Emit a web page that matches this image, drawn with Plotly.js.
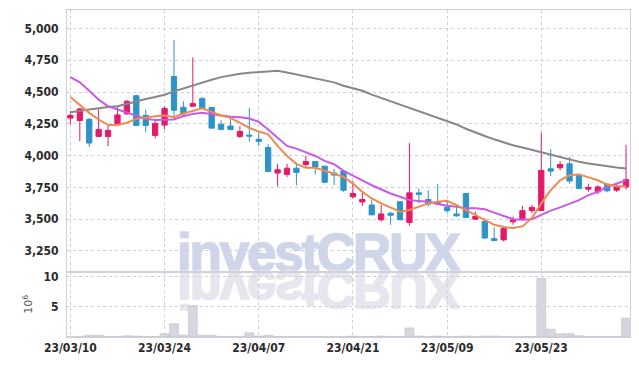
<!DOCTYPE html>
<html><head><meta charset="utf-8">
<script src="https://cdn.plot.ly/plotly-3.0.1.min.js"></script>
<style>
html,body{margin:0;padding:0;background:#fff;}
#wrap{position:relative;width:639px;height:366px;overflow:hidden;}
.wm{position:absolute;left:177px;top:226px;font:bold 53px 'Liberation Sans',Arial,sans-serif;line-height:54px;letter-spacing:-2.2px;white-space:nowrap;}
#wm1{color:#d0d6ea;-webkit-text-stroke:1.6px #d0d6ea;}
#wm2{color:#e6e6ee;-webkit-text-stroke:1.6px #e6e6ee;transform:scaleY(-1);transform-origin:50% 45px;}
#chart{position:absolute;left:0;top:0;width:639px;height:366px;}
</style></head>
<body>
<div id="wrap">
<div class="wm" id="wm1">investCRUX</div>
<div class="wm" id="wm2">investCRUX</div>
<div id="chart"></div>
</div>
<script>
const dates = ['23/03/10','23/03/13','23/03/14','23/03/15','23/03/16','23/03/17','23/03/20','23/03/21','23/03/22','23/03/23',
'23/03/24','23/03/27','23/03/28','23/03/29','23/03/30','23/03/31','23/04/03','23/04/04','23/04/05','23/04/06',
'23/04/07','23/04/10','23/04/11','23/04/12','23/04/13','23/04/14','23/04/17','23/04/18','23/04/19','23/04/20',
'23/04/21','23/04/24','23/04/25','23/04/26','23/04/27','23/04/28','23/05/02','23/05/03','23/05/04','23/05/08',
'23/05/09','23/05/10','23/05/11','23/05/12','23/05/15','23/05/16','23/05/17','23/05/18','23/05/19','23/05/22',
'23/05/23','23/05/24','23/05/25','23/05/26','23/05/30','23/05/31','23/06/01','23/06/02','23/06/05','23/06/07'];

const openP  = [4295,4276,4284,4151,4151,4250,4328,4471,4315,4159, 4240,4622,4380,4388,4448,4378,4247,4232,4151,4161,
                4128,4064,3863,3852,3901,3930,3953,3917,3863,3878, 3676,3635,3611,3495,3547,3637,3474,3707,3655,3637,
                3593,3541,3702,3500,3482,3347,3337,3479,3505,3567, 3569,3896,3904,3935,3845,3736,3715,3775,3728,3754];
const highP  = [4349,4375,4297,4367,4245,4388,4440,4479,4362,4271, 4388,4909,4427,4773,4461,4378,4279,4305,4232,4375,
                4180,4089,3935,3935,3935,4000,3953,3917,3896,3878, 3800,3707,3655,3611,3559,3637,4098,3741,3728,3775,
                3650,3593,3702,3559,3508,3437,3448,3521,3604,3611, 4182,4051,3955,3988,3858,3780,3767,3780,3780,4085];
const lowP   = [4245,4115,4068,4146,4075,4232,4320,4232,4185,4135, 4206,4284,4310,4383,4365,4216,4206,4201,4138,4109,
                4075,3870,3759,3832,3767,3904,3852,3790,3767,3715, 3663,3604,3534,3482,3456,3495,3448,3624,3598,3610,
                3546,3520,3513,3492,3344,3326,3326,3456,3495,3547, 3565,3837,3883,3780,3741,3715,3697,3715,3715,3733];
const closeP = [4315,4367,4099,4206,4198,4320,4427,4237,4237,4253, 4370,4357,4328,4409,4370,4216,4206,4206,4190,4154,
                4112,3875,3888,3901,3868,3953,3909,3790,3847,3728, 3702,3655,3534,3541,3531,3495,3707,3696,3619,3620,
                3567,3526,3513,3521,3352,3332,3427,3495,3567,3593, 3883,3878,3930,3800,3741,3750,3754,3723,3754,3811];

const maShort = [4461,4401,4336,4284,4240,4240,4258,4289,4302,4310, 4315,4302,4331,4354,4372,4344,4315,4297,4258,4219,
                 4189,4167,4076,3997,3935,3904,3904,3883,3857,3832, 3780,3715,3663,3624,3593,3559,3572,3598,3624,3637,
                 3645,3611,3572,3534,3495,3456,3438,3430,3443,3508, 3624,3728,3806,3845,3852,3832,3806,3772,3759,3759];
const maMid   = [4617,4576,4510,4440,4388,4362,4336,4310,4289,4279, 4279,4284,4310,4328,4336,4328,4315,4305,4302,4292,
                 4265,4206,4141,4076,4055,4029,3997,3958,3932,3880, 3845,3806,3767,3733,3702,3676,3650,3642,3637,3619,
                 3605,3598,3585,3585,3578,3552,3526,3500,3495,3500, 3534,3567,3593,3624,3650,3689,3715,3754,3780,3806];
const maLong  = [4341,4349,4362,4372,4383,4388,4409,4427,4445,4461, 4479,4505,4529,4550,4576,4596,4617,4633,4643,4651,
                 4656,4661,4667,4654,4638,4622,4604,4591,4576,4549, 4531,4510,4479,4453,4427,4401,4375,4349,4323,4297,
                 4272,4245,4211,4180,4154,4128,4102,4081,4063,4044, 4029,4010,3992,3971,3951,3938,3927,3914,3906,3899];

const volumeM = [0.05,0.1,0.3,0.3,0.1,0.1,0.2,0.15,0.1,0.1, 0.55,2.2,0.3,5.2,0.3,0.3,0.1,0.1,0.1,0.7,
                 0.15,0.3,0.1,0.1,0.1,0.1,0.1,0.1,0.08,0.1, 0.15,0.1,0.1,0.15,0.1,0.1,1.5,0.15,0.1,0.15,
                 0.1,0.1,0.15,0.1,0.15,0.15,0.1,0.1,0.1,0.1, 9.7,1.3,0.55,0.55,0.2,0.1,0.1,0.1,0.1,3.1];

const xTicks = ['23/03/10','23/03/24','23/04/07','23/04/21','23/05/09','23/05/23'];
const yTicks = [3250,3500,3750,4000,4250,4500,4750,5000];
const volTicks = [5,10];

const RED = '#e31a6c', BLUE = '#2e93c7';
const GRID = '#cbcfe2', LINE = '#cfd0da';
const tickFont = {family:"'DejaVu Sans Condensed','DejaVu Sans',sans-serif", size:12, color:'#2a2a2a', weight:'bold'};

const traces = [
  {type:'candlestick', x:dates, open:openP, high:highP, low:lowP, close:closeP,
   xaxis:'x', yaxis:'y', whiskerwidth:0,
   increasing:{line:{color:RED,width:1}, fillcolor:RED},
   decreasing:{line:{color:BLUE,width:1}, fillcolor:BLUE}, hoverinfo:'skip'},
  {type:'scatter', mode:'lines', x:dates, y:maLong, xaxis:'x', yaxis:'y', line:{color:'#878787', width:2}},
  {type:'scatter', mode:'lines', x:dates, y:maMid, xaxis:'x', yaxis:'y', line:{color:'#c95ae6', width:2}},
  {type:'scatter', mode:'lines', x:dates, y:maShort, xaxis:'x', yaxis:'y', line:{color:'#ef8a52', width:2}},
  {type:'bar', x:dates, y:volumeM, xaxis:'x2', yaxis:'y2',
   marker:{color:'#d6d6de', line:{color:'#bfc0c8', width:0.6}}}
];

const axX = {type:'category', range:[-0.36,59.42], tickvals:xTicks, showgrid:true, gridcolor:GRID, griddash:'dot', gridwidth:1,
  showline:true, mirror:true, linecolor:LINE, linewidth:1, ticks:'', zeroline:false, fixedrange:true};

const layout = {
  width:639, height:366, margin:{l:67, r:9, t:10, b:29},
  paper_bgcolor:'rgba(0,0,0,0)', plot_bgcolor:'rgba(0,0,0,0)',
  showlegend:false, boxgap:0.2, bargap:0.05,
  xaxis:Object.assign({}, axX, {anchor:'y', domain:[0,1], showticklabels:false, rangeslider:{visible:false}}),
  xaxis2:Object.assign({}, axX, {anchor:'y2', domain:[0,1], matches:'x', showticklabels:true, tickfont:tickFont, rangeslider:{visible:false}}),
  yaxis:{domain:[0.1997,1], range:[3087,5145], tickvals:yTicks, tickformat:',d', tickfont:tickFont,
    showgrid:true, gridcolor:GRID, griddash:'dot', showline:true, mirror:true, linecolor:LINE, zeroline:false,
    ticks:'', ticklabelstandoff:5},
  yaxis2:{domain:[0,0.1997], range:[0,10.78], tickvals:volTicks, tickfont:tickFont,
    showgrid:true, gridcolor:GRID, griddash:'dot', showline:true, mirror:true, linecolor:LINE, zeroline:false,
    ticks:'', ticklabelstandoff:5,
    title:{text:'10<sup>6</sup>', font:{family:'DejaVu Sans, sans-serif', size:11, color:'#555'}, standoff:8}}
};

Plotly.newPlot('chart', traces, layout, {displayModeBar:false, staticPlot:true});
</script>
</body></html>
